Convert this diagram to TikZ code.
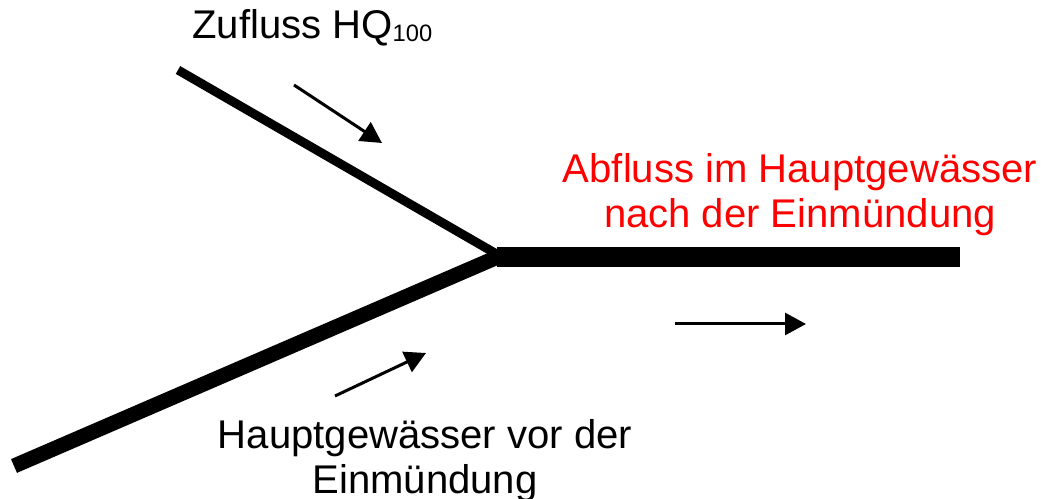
\documentclass[tikz,border=0pt]{standalone}
\usepackage{fontspec}
\setmainfont{Liberation Sans}
\usetikzlibrary{arrows.meta}
\definecolor{abflussrot}{HTML}{FF0000}

\begin{document}
\begin{tikzpicture}[
  x=0.02cm, y=-0.02cm,
  line cap=butt,
  lauf/.style={draw=black},
  % Fließrichtungspfeil: dünner Schaft, gefülltes Dreieck
  fluss/.style={draw=black, line width=0.06cm, -{Triangle[length=0.42cm,width=0.44cm]}},
  lbl/.style={font=\fontsize{22.8}{25.5}\selectfont, inner sep=0pt, align=center},
]
\useasboundingbox (0,0) rectangle (1046,499);

% --- Gewässerlauf: Zufluss oben, Hauptgewässer unten, Mündung bei (J)
\coordinate (J)     at (500,256);
\coordinate (zu)    at (178,70);
\coordinate (haupt) at (14,466);
\coordinate (ab0)   at (497,257);
\coordinate (ab)    at (960,257);
\draw[lauf, line width=0.18cm] (zu) -- (J);
\draw[lauf, line width=0.30cm] (haupt) -- (J);
\draw[lauf, line width=0.40cm] (ab0) -- (ab);

% --- Fließrichtung
\coordinate (f1a) at (294,85);  \coordinate (f1b) at (382,143);
\coordinate (f2a) at (335,396); \coordinate (f2b) at (426,353);
\coordinate (f3a) at (675,324); \coordinate (f3b) at (806,324);
\draw[fluss] (f1a) -- (f1b);
\draw[fluss] (f2a) -- (f2b);
\draw[fluss] (f3a) -- (f3b);

% --- Beschriftung
\node[lbl, anchor=base west] (zufluss) at (192,39)
  {Zufluss HQ\raisebox{-0.05cm}{\fontsize{13.5}{13.5}\selectfont 100}};
\node[lbl, text=abflussrot, anchor=north] (abfluss) at (800,153)
  {Abfluss im Hauptgewässer\\nach der Einmündung};
\node[lbl, anchor=north] (vorher) at (425,419)
  {Hauptgewässer vor der\\Einmündung};
\end{tikzpicture}
\end{document}
